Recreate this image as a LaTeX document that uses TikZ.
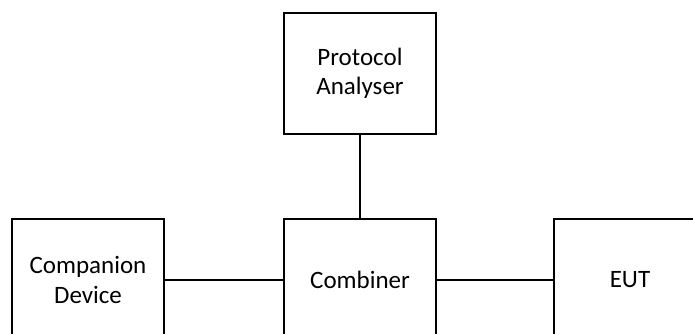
\documentclass[tikz,border=0pt]{standalone}
\usepackage{fontspec}
\setmainfont{Carlito}
\begin{document}
\begin{tikzpicture}[x=1pt,y=-1pt,
  blk/.style={draw=black, line width=1.6pt, rectangle, align=center, inner sep=0pt,
    font=\fontsize{25}{29.5}\selectfont},
  conn/.style={draw=black, line width=2.4pt}]
\useasboundingbox (0,0) rectangle (693,334);
\clip (0,0) rectangle (693,334);
\node[blk, minimum width=152pt, minimum height=121pt] (pa) at (360,73.5) {Protocol\\Analyser};
\node[blk, minimum width=152pt, minimum height=122pt] (cd) at (88,280) {Companion\\Device};
\node[blk, minimum width=152pt, minimum height=122pt] (cb) at (360,280) {Combiner};
\node[blk, minimum width=152pt, minimum height=122pt] (eut) at (630,280) {EUT};
\draw[conn] (cd) -- (cb);
\draw[conn] (cb) -- (eut);
\draw[conn] (cb) -- (pa);
\end{tikzpicture}
\end{document}
